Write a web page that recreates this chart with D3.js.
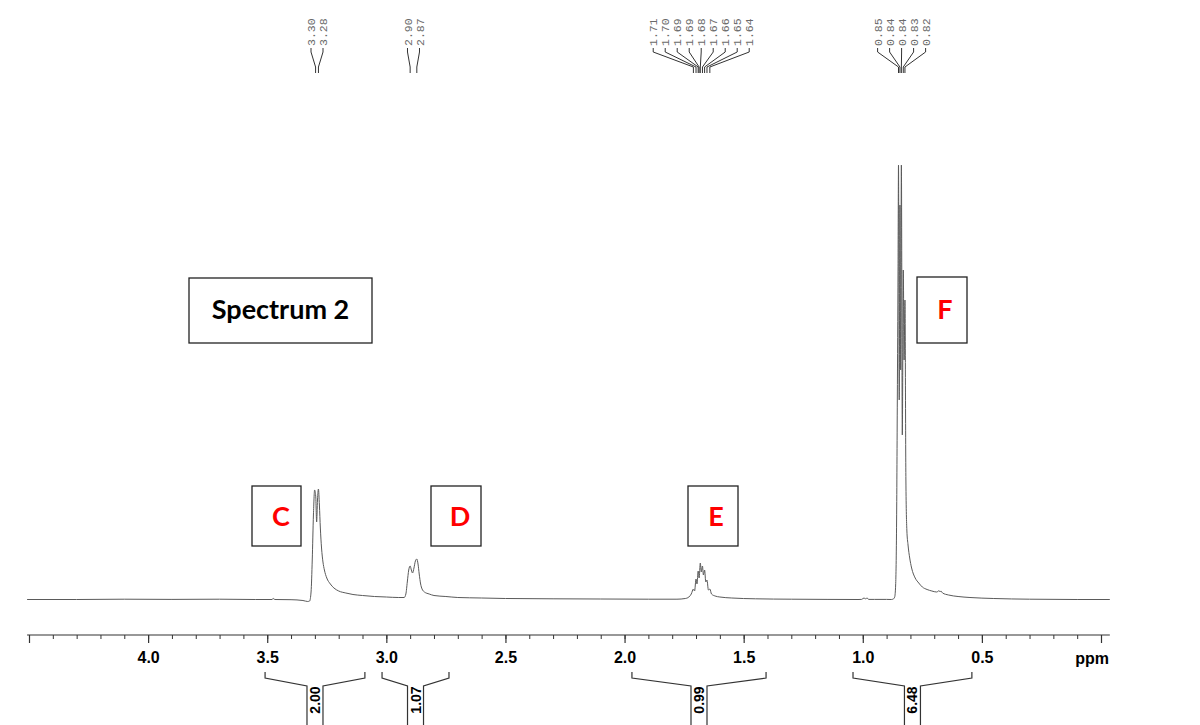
<!DOCTYPE html>
<html>
<head>
<meta charset="utf-8">
<script src="https://cdn.jsdelivr.net/npm/d3@7/dist/d3.min.js"></script>
<style>
  html, body { margin: 0; padding: 0; background: #fff; }
  svg { display: block; }
</style>
</head>
<body>
<svg id="chart" width="1200" height="725"></svg>
<script>
// ---------------- data ----------------
// spectrum trace: chemical shift (ppm) and intensity (arbitrary units)
const specPpm = [4.508,4.30,4.10,3.90,3.70,3.55,3.48,3.475,3.468,3.40,3.35,3.33,3.322,3.316,3.311,3.306,3.301,3.2965,3.2925,3.289,3.285,3.281,3.277,3.272,3.266,3.26,3.25,3.235,3.22,3.20,3.17,3.14,3.10,3.05,3.00,2.95,2.925,2.918,2.912,2.906,2.900,2.895,2.890,2.884,2.878,2.872,2.867,2.862,2.856,2.85,2.84,2.82,2.80,2.75,2.70,2.60,2.50,2.30,2.10,1.90,1.78,1.745,1.73,1.72,1.711,1.706,1.700,1.696,1.691,1.687,1.682,1.678,1.673,1.669,1.664,1.659,1.654,1.648,1.642,1.635,1.62,1.60,1.55,1.45,1.30,1.15,1.02,1.005,0.995,0.988,0.982,0.975,0.95,0.90,0.88,0.872,0.866,0.862,0.858,0.855,0.852,0.850,0.847,0.844,0.841,0.838,0.834,0.830,0.8265,0.823,0.819,0.815,0.810,0.803,0.795,0.78,0.765,0.75,0.73,0.71,0.69,0.685,0.68,0.676,0.672,0.665,0.64,0.60,0.55,0.45,0.30,0.10,-0.037];
const specInt = [0.5,0.5,0.8,0.6,0.8,0.5,0.5,1.5,0.5,0.3,-0.5,-1.5,-1,8,40,85,110,104,78,100,111,95,72,52,38,30,22,16,12,9,7,5.5,4.5,3.5,3,2.5,2.5,6,18,30,34,30,27,32,39,41,36,26,16,11,8,6,4.5,3.5,2.5,2,1.5,1.2,1,0.8,0.8,1.5,3,6,11,9,21,16,29,22,37,28,34,25,30,18,20,10,11,6,4,3,2,1.2,0.8,0.6,0.5,0.6,2,1.2,2,0.6,0.6,0.6,0.5,1,3,15,80,200,330,435,200,395,230,435,165,330,240,300,120,70,55,42,32,22,17,13,10.5,9,8,8.5,9.5,8,9,7,5,3.5,2.5,1.5,0.8,0.5,0.5];

// peak picking labels (top)
const peakLabels = ["3.30","3.28","2.90","2.87","1.71","1.70","1.69","1.69","1.68","1.67","1.66","1.65","1.64","0.85","0.84","0.84","0.83","0.82"];
const peakPpm    = [3.297,3.285,2.900,2.872,1.711,1.700,1.691,1.687,1.682,1.673,1.664,1.654,1.642,0.850,0.844,0.838,0.830,0.823];
const peakGroup  = [0,0,1,1,2,2,2,2,2,2,2,2,2,3,3,3,3,3];

// integrals (bottom)
const integralFrom = [3.509,3.018,1.969,1.041];
const integralTo   = [3.090,2.737,1.406,0.542];
const integralText = ["2.00","1.07","0.99","6.48"];

// axis ticks
const majorTicks  = [4.5,4.0,3.5,3.0,2.5,2.0,1.5,1.0,0.5,0.0];
const majorLabels = ["","4.0","3.5","3.0","2.5","2.0","1.5","1.0","0.5",""];
const minorTicks  = d3.range(0,46).map(i => +(i/10).toFixed(1));

// annotation boxes
const boxText   = ["Spectrum 2","C","D","E","F"];
const boxColor  = ["#000000","#ff0000","#ff0000","#ff0000","#ff0000"];

// ---------------- drawing ----------------
const svg = d3.select("#chart");
const x = d3.scaleLinear().domain([4.5, 0.0]).range([29, 1101]);
const y = d3.scaleLinear().domain([0, 437]).range([600, 163]);

// spectrum
const pts = specPpm.map((p,i)=>[p, specInt[i]]);
svg.append("path")
  .datum(pts)
  .attr("fill","none")
  .attr("stroke","#5a5a5a")
  .attr("stroke-width",1)
  .attr("d", d3.line().x(d=>x(d[0])).y(d=>y(d[1])).curve(d3.curveMonotoneX));

// axis
const axisY = 635;
const gAxis = svg.append("g").attr("transform",`translate(0,${axisY})`);
svg.append("line")
  .attr("x1", x(4.508)).attr("x2", x(-0.037))
  .attr("y1", axisY).attr("y2", axisY)
  .attr("stroke","#333").attr("stroke-width",1.2);
const minorAxis = d3.axisBottom(x).tickValues(minorTicks).tickSize(4).tickFormat("");
const gMinor = gAxis.append("g").call(minorAxis);
gMinor.select(".domain").remove();
gMinor.selectAll(".tick line").attr("stroke","#333");
const majorAxis = d3.axisBottom(x).tickValues(majorTicks).tickSize(8).tickPadding(9)
  .tickFormat((d,i)=>majorLabels[i]);
const gMajor = gAxis.append("g").call(majorAxis);
gMajor.select(".domain").remove();
gMajor.selectAll(".tick line").attr("stroke","#333").attr("stroke-width",1.2);
gMajor.selectAll(".tick text")
  .attr("font-family","Liberation Sans, Arial, sans-serif")
  .attr("font-weight","bold").attr("font-size",16).attr("fill","#000");
svg.append("text")
  .attr("x",1109).attr("y",664)
  .attr("text-anchor","end")
  .attr("font-family","Liberation Sans, Arial, sans-serif")
  .attr("font-weight","bold").attr("font-size",16)
  .text("ppm");

// integrals
integralText.forEach((t,i)=>{
  const xa = x(integralFrom[i]), xb = x(integralTo[i]);
  const xc = (xa+xb)/2;
  const p = d3.path();
  p.moveTo(xa,672); p.lineTo(xa,678); p.lineTo(xc-8,686); p.lineTo(xc-8,726);
  p.moveTo(xb,672); p.lineTo(xb,678); p.lineTo(xc+8,686); p.lineTo(xc+8,726);
  svg.append("path").attr("d",p.toString()).attr("fill","none")
    .attr("stroke","#333").attr("stroke-width",1.2);
  svg.append("text")
    .attr("transform",`translate(${xc},700) rotate(-90)`)
    .attr("text-anchor","middle").attr("dy","0.36em")
    .attr("font-family","Liberation Sans, Arial, sans-serif")
    .attr("font-weight","bold").attr("font-size",14)
    .text(t);
});

// peak labels
const spacing = 12;
const groups = d3.group(peakLabels.map((l,i)=>({l, p:peakPpm[i], g:peakGroup[i]})), d=>d.g);
groups.forEach(arr=>{
  const cx = d3.mean(arr, d=>x(d.p));
  const n = arr.length;
  arr.forEach((d,j)=>{
    const lx = cx + (j-(n-1)/2)*spacing;
    const px = x(d.p);
    svg.append("text")
      .attr("transform",`translate(${lx},46) rotate(-90)`)
      .attr("text-anchor","start").attr("dy","0.35em")
      .attr("font-family","Liberation Mono, DejaVu Sans Mono, monospace")
      .attr("font-size",11.5).attr("fill","#6a6a6a")
      .text(d.l);
    svg.append("path")
      .attr("d",`M${lx},48L${lx},52L${px},67L${px},73`)
      .attr("fill","none").attr("stroke","#333").attr("stroke-width",1);
  });
});

// annotation boxes (positions in pixels)
const boxes = [
  {x0:189,y0:278,x1:372,y1:343, tx:280.5, ty:319, size:27},
  {x0:252,y0:486,x1:301,y1:546, tx:281, ty:526, size:27},
  {x0:431,y0:486,x1:481,y1:546, tx:460, ty:526, size:27},
  {x0:688,y0:486,x1:738,y1:546, tx:716, ty:526, size:27},
  {x0:917,y0:277,x1:967,y1:343, tx:945, ty:319, size:27}
];
boxes.forEach((b,i)=>{
  svg.append("rect").attr("x",b.x0).attr("y",b.y0)
    .attr("width",b.x1-b.x0).attr("height",b.y1-b.y0)
    .attr("fill","#fff").attr("stroke","#222").attr("stroke-width",1.3);
  svg.append("text").attr("x",b.tx).attr("y",b.ty)
    .attr("text-anchor","middle")
    .attr("font-family","Lato, Carlito, sans-serif")
    .attr("font-weight","bold").attr("font-size",b.size)
    .attr("fill",boxColor[i])
    .text(boxText[i]);
});
</script>
</body>
</html>
